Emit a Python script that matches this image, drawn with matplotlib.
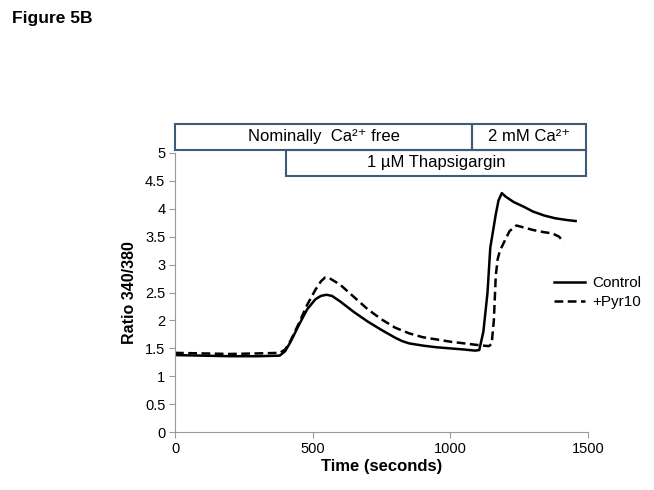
import matplotlib
matplotlib.use('Agg')
import matplotlib.pyplot as plt
from matplotlib.patches import Rectangle

plt.rcParams['font.family'] = ['Liberation Sans', 'DejaVu Sans']

# Control trace (time in s, ratio 340/380)
control_t = [0, 100, 200, 300, 380, 400, 420, 450, 480, 510, 530, 550, 570, 600, 650,
             700, 750, 775, 800, 825, 850, 900, 950, 1000, 1050, 1090, 1105, 1120, 1135,
             1145, 1155, 1165, 1175, 1187, 1200, 1230, 1265, 1300, 1340, 1380, 1420, 1455]
control_y = [1.38, 1.37, 1.36, 1.36, 1.37, 1.45, 1.62, 1.92, 2.20, 2.38, 2.44, 2.46, 2.44,
             2.34, 2.15, 1.98, 1.83, 1.76, 1.69, 1.63, 1.59, 1.55, 1.52, 1.50, 1.48, 1.46,
             1.47, 1.80, 2.50, 3.30, 3.60, 3.90, 4.15, 4.28, 4.22, 4.12, 4.04, 3.95, 3.88,
             3.83, 3.80, 3.78]

# +Pyr10 trace
pyr_t = [0, 100, 200, 300, 380, 400, 420, 450, 480, 510, 530, 545, 560, 600, 650, 700,
         750, 800, 850, 900, 950, 1000, 1050, 1100, 1140, 1150, 1158, 1165, 1172, 1180,
         1195, 1215, 1240, 1270, 1300, 1340, 1370, 1395, 1412]
pyr_y = [1.42, 1.41, 1.40, 1.41, 1.42, 1.48, 1.64, 1.95, 2.28, 2.55, 2.70, 2.77, 2.76,
         2.64, 2.42, 2.20, 2.02, 1.87, 1.77, 1.70, 1.66, 1.62, 1.59, 1.56, 1.54, 1.58,
         2.00, 2.80, 3.10, 3.25, 3.40, 3.60, 3.70, 3.66, 3.62, 3.58, 3.56, 3.50, 3.40]

# condition bars above the plot: (start, end, row bottom, row top, label)
bars = [
    (0, 1079, 5.05, 5.52, 'Nominally  Ca\u00b2\u207a free'),
    (1079, 1493, 5.05, 5.52, '2 mM Ca\u00b2\u207a'),
    (403, 1493, 4.59, 5.05, '1 \u00b5M Thapsigargin'),
]

fig = plt.figure(figsize=(6.54, 4.9), dpi=100)
ax = fig.add_axes([0.2676, 0.118, 0.6315, 0.57])

ax.plot(control_t, control_y, color='black', lw=1.8, label='Control')
ax.plot(pyr_t, pyr_y, color='black', lw=1.8, ls=(0, (3.5, 1.8)), label='+Pyr10')

ax.set_xlim(0, 1500)
ax.set_ylim(0, 5)
ax.set_xticks([0, 500, 1000, 1500])
ax.set_yticks([0, 0.5, 1, 1.5, 2, 2.5, 3, 3.5, 4, 4.5, 5])
ax.set_yticklabels(['0', '0.5', '1', '1.5', '2', '2.5', '3', '3.5', '4', '4.5', '5'])
for s in ['top', 'right']:
    ax.spines[s].set_visible(False)
for s in ['left', 'bottom']:
    ax.spines[s].set_color('#9a9a9a')
    ax.spines[s].set_linewidth(0.8)
ax.tick_params(direction='out', length=4, color='#9a9a9a', labelsize=10.5, pad=3)

ax.set_xlabel('Time (seconds)', fontsize=12, fontweight='bold', labelpad=2)
ax.set_ylabel('Ratio 340/380', fontsize=11.5, fontweight='bold', labelpad=6)

edge = '#3e5c78'
for x0, x1, y0, y1, label in bars:
    ax.add_patch(Rectangle((x0, y0), x1 - x0, y1 - y0, fill=False, edgecolor=edge,
                           lw=1.5, clip_on=False))
    ax.text((x0 + x1) / 2, (y0 + y1) / 2, label, ha='center', va='center',
            fontsize=12, clip_on=False)

leg = ax.legend(loc='center left', bbox_to_anchor=(0.885, 0.5), frameon=False,
                fontsize=11, handlelength=2.0, handletextpad=0.5, labelspacing=0.35)

fig.text(0.018, 0.962, 'Figure 5B', fontsize=12.5, fontweight='bold', ha='left', va='center')

plt.savefig('out.png', dpi=100)
